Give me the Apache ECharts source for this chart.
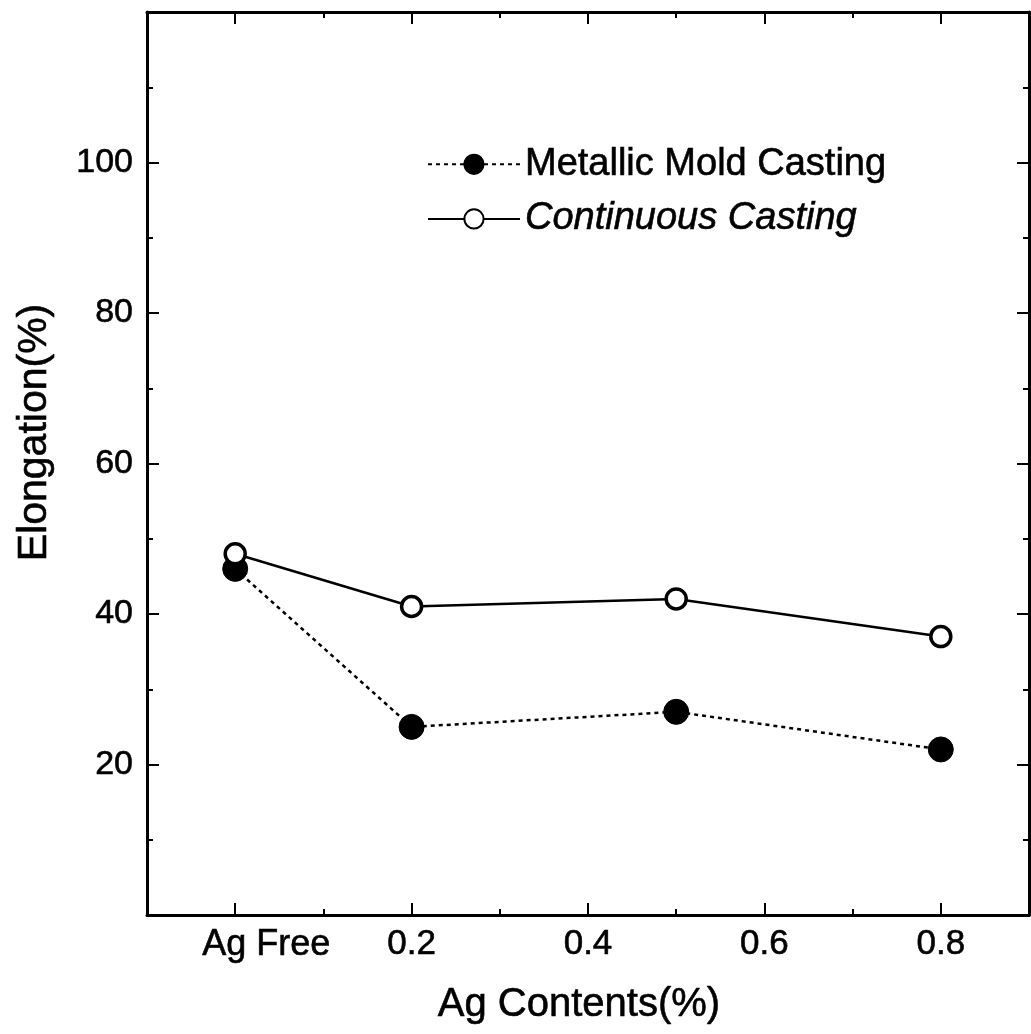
<!DOCTYPE html>
<html>
<head>
<meta charset="utf-8">
<script src="https://cdn.jsdelivr.net/npm/echarts@6/dist/echarts.min.js"></script>
<style>
  html, body { margin: 0; padding: 0; background: #fff; }
  #main { width: 1031px; height: 1034px; }
</style>
</head>
<body>
<div id="main"></div>
<script>
// data
var agContents = [0, 0.2, 0.5, 0.8];          // 0 = Ag Free
var metallicMold = [46, 25, 27, 22];
var continuousCast = [48, 41, 42, 37];

var xMajor = [0, 0.2, 0.4, 0.6, 0.8];
var xMinor = [0.1, 0.3, 0.5, 0.7];
var yMajor = [20, 40, 60, 80, 100];
var yMinor = [10, 30, 50, 70, 90, 110];

var FONT = "'Liberation Sans', Arial, sans-serif";
// scanned print looks a little heavier than plain Arial
var INK = { textBorderColor: '#000', textBorderWidth: 0.6 };

function pairs(xs, ys) {
    var out = [];
    for (var i = 0; i < xs.length; i++) {
        out.push([xs[i], ys[i]]);
    }
    return out;
}

// one axis (ticks only or ticks + labels), the frame is made of several of these
function xAx(pos, ticks, len, withLine, withLabel) {
    return {
        type: 'value', position: pos, min: -0.1, max: 0.9,
        axisLine: { show: withLine, onZero: false, lineStyle: { color: '#000', width: 3 } },
        axisTick: { show: true, inside: true, length: len, customValues: ticks, lineStyle: { color: '#000', width: 2 } },
        axisLabel: {
            show: withLabel, customValues: xMajor, margin: 12,
            color: '#000', fontFamily: FONT, fontSize: 35,
            textBorderColor: INK.textBorderColor, textBorderWidth: INK.textBorderWidth,
            formatter: function (v) {
                if (Math.abs(v) < 1e-9) return '{a|Ag Free}';
                return v.toFixed(1);
            },
            rich: { a: { fontFamily: FONT, fontSize: 36, color: '#000', padding: [0, 0, 0, 62],
                         textBorderColor: INK.textBorderColor, textBorderWidth: INK.textBorderWidth } }
        },
        splitLine: { show: false }
    };
}
function yAx(pos, ticks, len, withLine, withLabel) {
    return {
        type: 'value', position: pos, min: 0, max: 120,
        axisLine: { show: withLine, onZero: false, lineStyle: { color: '#000', width: 3 } },
        axisTick: { show: true, inside: true, length: len, customValues: ticks, lineStyle: { color: '#000', width: 2 } },
        axisLabel: {
            show: withLabel, customValues: yMajor, margin: 14,
            color: '#000', fontFamily: FONT, fontSize: 34,
            textBorderColor: INK.textBorderColor, textBorderWidth: INK.textBorderWidth
        },
        splitLine: { show: false }
    };
}

var xMain = xAx('bottom', xMajor, 12, true, true);
xMain.name = 'Ag Contents(%)';
xMain.nameLocation = 'middle';
xMain.nameGap = 70;
xMain.nameTextStyle = { color: '#000', fontFamily: FONT, fontSize: 40,
                        textBorderColor: INK.textBorderColor, textBorderWidth: INK.textBorderWidth,
                        padding: [0, 18, 0, 0] };

var yMain = yAx('left', yMajor, 12, true, true);
yMain.name = 'Elongation(%)';
yMain.nameLocation = 'middle';
yMain.nameGap = 92;
yMain.nameTextStyle = { color: '#000', fontFamily: FONT, fontSize: 41,
                        textBorderColor: INK.textBorderColor, textBorderWidth: INK.textBorderWidth,
                        padding: [0, 0, 0, 62] };

var option = {
    animation: false,
    backgroundColor: '#fff',
    grid: { left: 147, right: 2, top: 12, bottom: 119, containLabel: false },
    legend: {
        left: 422, top: 140, orient: 'vertical',
        itemWidth: 92, itemHeight: 24, itemGap: 16,
        textStyle: { color: '#000', fontFamily: FONT, fontSize: 38,
                     textBorderColor: INK.textBorderColor, textBorderWidth: INK.textBorderWidth },
        data: [
            { name: 'Metallic Mold Casting' },
            { name: 'Continuous Casting', textStyle: { fontStyle: 'italic' } }
        ]
    },
    xAxis: [
        xMain,
        xAx('bottom', xMinor, 6, false, false),
        xAx('top', xMajor, 12, true, false),
        xAx('top', xMinor, 6, false, false)
    ],
    yAxis: [
        yMain,
        yAx('left', yMinor, 6, false, false),
        yAx('right', yMajor, 12, true, false),
        yAx('right', yMinor, 6, false, false)
    ],
    series: [
        {
            name: 'Metallic Mold Casting', type: 'line',
            data: pairs(agContents, metallicMold),
            symbol: 'circle', symbolSize: 25,
            itemStyle: { color: '#000', borderColor: '#000', borderWidth: 1 },
            lineStyle: { color: '#000', width: 2.5, type: [4, 4] },
            z: 3
        },
        {
            name: 'Continuous Casting', type: 'line',
            data: pairs(agContents, continuousCast),
            symbol: 'circle', symbolSize: 20,
            itemStyle: { color: '#fff', borderColor: '#000', borderWidth: 3.5 },
            lineStyle: { color: '#000', width: 2.5 },
            z: 4
        }
    ]
};

var chart = echarts.init(document.getElementById('main'));
chart.setOption(option);
</script>
</body>
</html>
